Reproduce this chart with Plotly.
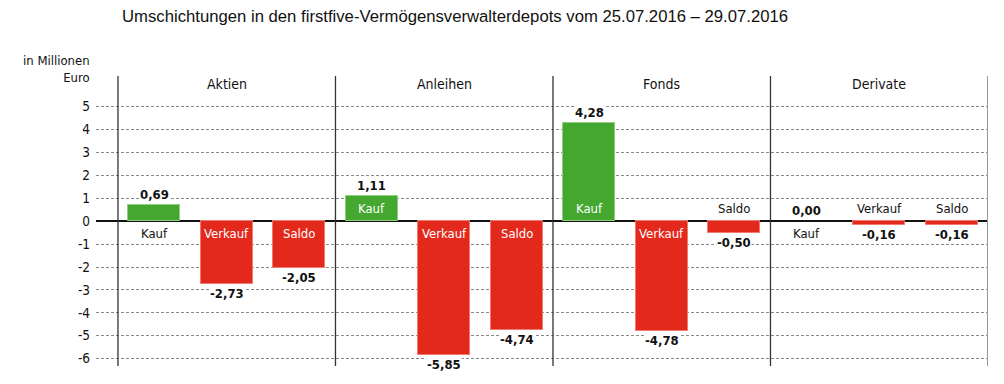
import plotly.graph_objects as go

# ---- data ----
groups = ["Aktien", "Anleihen", "Fonds", "Derivate"]
types = ["Kauf", "Verkauf", "Saldo"]
aktien = [0.69, -2.73, -2.05]
anleihen = [1.11, -5.85, -4.74]
fonds = [4.28, -4.78, -0.50]
derivate = [0.00, -0.16, -0.16]
series = [aktien, anleihen, fonds, derivate]
y_tickvals = [5, 4, 3, 2, 1, 0, -1, -2, -3, -4, -5, -6]
y_ticktext = ["5", "4", "3", "2", "1", "0", "-1", "-2", "-3", "-4", "-5", "-6"]
title = "Umschichtungen in den firstfive-Vermögensverwalterdepots vom 25.07.2016 – 29.07.2016"
y_title = "in Millionen<br>Euro"

GREEN = "#44a72f"
RED = "#e3281c"
FONT = "DejaVu Sans Condensed, Liberation Sans Narrow, Arial Narrow, Liberation Sans, Arial, sans-serif"

OFF = 8  # default page body margin
W, H = 1004 - OFF, 384 - OFF

xs, ys, cols, cats = [], [], [], []
for gi, vals in enumerate(series):
    for ti, v in enumerate(vals):
        xs.append(gi * 3 + ti)
        ys.append(v)
        cols.append(GREEN if v >= 0 else RED)
        cats.append(types[ti])

fig = go.Figure()
fig.add_trace(go.Bar(
    x=xs, y=ys, width=0.72,
    marker=dict(color=cols,
                line=dict(color=["#8fd07f" if c == GREEN else "#f07a70" for c in cols],
                          width=[0 if v == 0 else 1 for v in ys])),
    hoverinfo="skip", showlegend=False,
))

ann = []
for x, v, cat in zip(xs, ys, cats):
    lab = f"{v:.2f}".replace(".", ",")
    pos = v >= 0
    ann.append(dict(x=x, y=v, text=f"<b>{lab}</b>", showarrow=False,
                    yanchor="bottom" if pos else "top", yshift=2 if pos else -1,
                    font=dict(family=FONT, size=13, color="#111"),
                    bgcolor="white", borderpad=0))
    inside = abs(v) >= 1
    if inside:
        ann.append(dict(x=x, y=0, text=cat, showarrow=False,
                        yanchor="bottom" if pos else "top", yshift=3 if pos else -3,
                        font=dict(family=FONT, size=13, color="white")))
    else:
        ann.append(dict(x=x, y=0, text=cat, showarrow=False,
                        yanchor="top" if pos else "bottom", yshift=-3 if pos else 3,
                        font=dict(family=FONT, size=13, color="#111")))

for gi, g in enumerate(groups):
    ann.append(dict(x=gi * 3 + 1, y=6.0, text=g, showarrow=False, yanchor="middle",
                    font=dict(family=FONT, size=14, color="#111")))

ann.append(dict(xref="paper", yref="paper", x=0, y=1.024, xshift=-4, xanchor="right",
                yanchor="middle", align="right", text=y_title, showarrow=False,
                font=dict(family=FONT, size=13, color="#111")))

shapes = []
for gi in range(len(groups) + 1):
    xb = gi * 3 - 0.5
    last = gi == len(groups)
    shapes.append(dict(type="line", xref="x", yref="paper", x0=xb, x1=xb, y0=0, y1=1,
                       line=dict(color="#999999" if last else "#333333", width=2 if last else 1.3),
                       layer="above"))

fig.update_layout(
    width=W, height=H,
    margin=dict(l=96 - OFF, r=16, t=76 - OFF, b=18),
    paper_bgcolor="white", plot_bgcolor="white",
    title=dict(text=title, x=(122 - OFF) / W, xref="container", xanchor="left",
               y=1 - (16 - OFF) / H, yref="container", yanchor="middle",
               font=dict(family="Liberation Sans, Arial, sans-serif", size=16.7, color="#111")),
    xaxis=dict(range=[-0.803, 11.5], visible=False, fixedrange=True),
    yaxis=dict(range=[-6.32, 6.34], tickvals=y_tickvals, ticktext=y_ticktext,
               showgrid=True, gridcolor="#8a8a8a", griddash="3px,2px", gridwidth=1,
               zeroline=True, zerolinecolor="#111", zerolinewidth=1.6,
               ticks="", ticklabelstandoff=5,
               tickfont=dict(family=FONT, size=13.5, color="#111"), showline=False),
    annotations=ann, shapes=shapes,
    bargap=0,
)

fig.write_html("out.html")
